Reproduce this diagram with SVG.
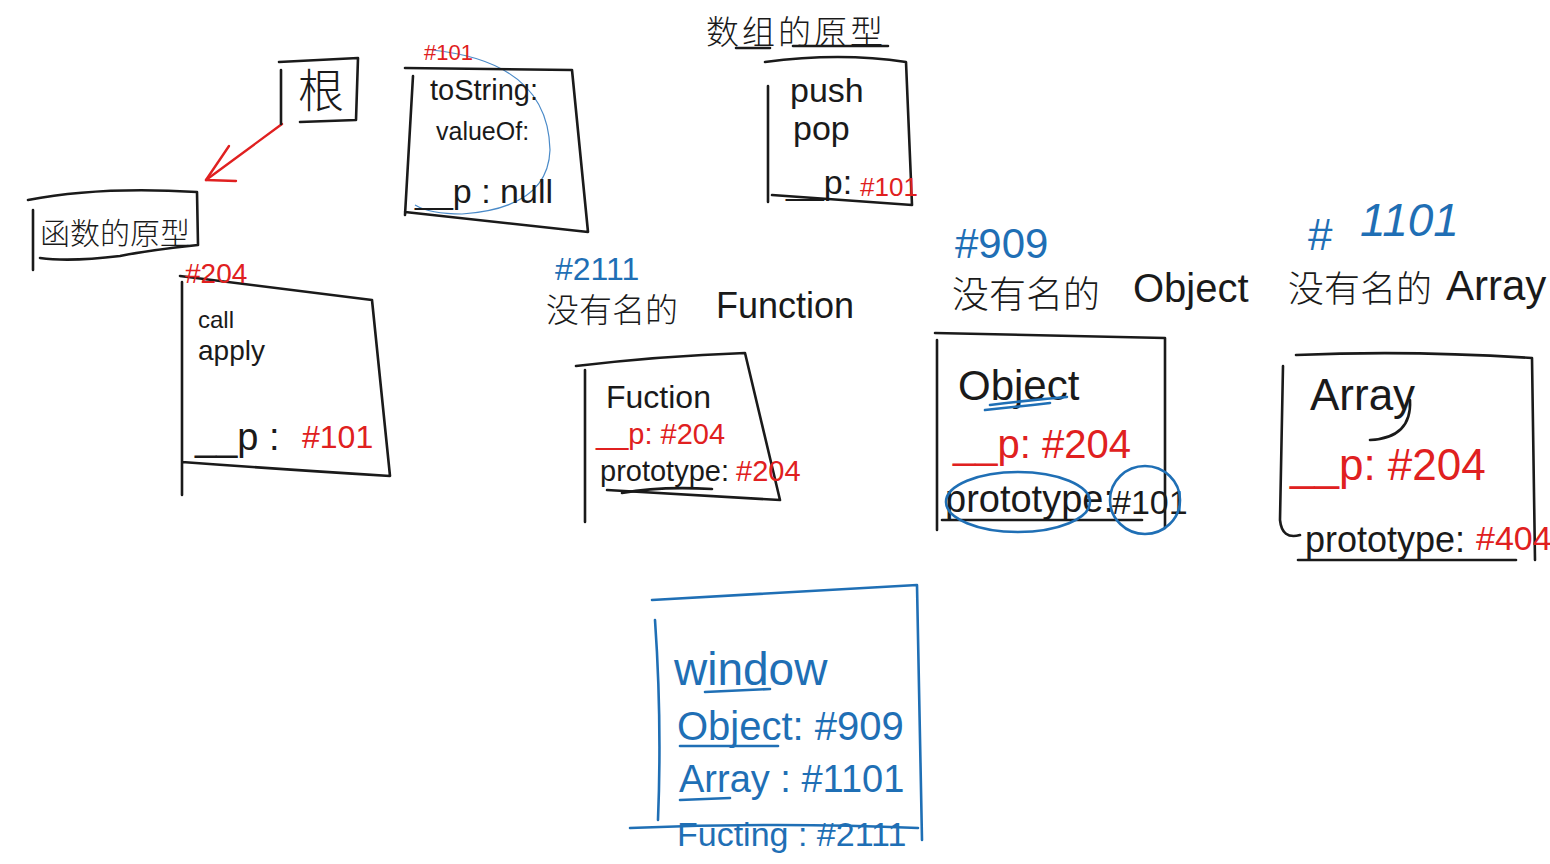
<svg xmlns="http://www.w3.org/2000/svg" width="1550" height="864" viewBox="0 0 1550 864">
<defs>
<style>
.ink{fill:none;stroke:#1a1a1a;stroke-width:2.6;stroke-linecap:round;stroke-linejoin:round}
.bink{fill:none;stroke:#1f6fb5;stroke-width:2.6;stroke-linecap:round;stroke-linejoin:round}
.thin{fill:none;stroke:#4a8ac8;stroke-width:1.2}
.t{font-family:"Liberation Sans","Noto Sans CJK SC",sans-serif;fill:#1a1a1a}
.cjk{font-family:"Noto Sans CJK SC","Liberation Sans",sans-serif;fill:#1a1a1a;font-weight:300}
.r{fill:#e02020}
.b{fill:#1f6fb5}
</style>
</defs>
<rect width="1550" height="864" fill="#ffffff"/>

<g id="connectors">
<path d="M282 124 L206 180" fill="none" stroke="#e02020" stroke-width="2.4" stroke-linecap="round"/>
<path d="M229 146 L206 180 L236 181" fill="none" stroke="#e02020" stroke-width="2.4" stroke-linecap="round" stroke-linejoin="round"/>
</g>

<g id="root">
<path class="ink" d="M279 62 L358 58 L356 120 L300 122 M281 70 L281 124"/>
<text class="cjk" x="298" y="107" font-size="46">根</text>
</g>

<g id="func-proto-label">
<path class="ink" d="M28 200 Q100 186 197 192 L198 245 Q150 250 120 256 Q70 262 40 258 M33 210 L33 270"/>
<text class="cjk" x="40" y="244" font-size="30">函数的原型</text>
</g>

<g id="obj101">
<path class="thin" d="M432 50 Q548 62 550 150 Q548 208 462 214 Q430 214 415 205"/>
<path class="ink" d="M405 68 L572 70 L588 232 L405 212 M413 76 L405 215"/>
<text class="t r" x="424" y="60" font-size="22">#101</text>
<text class="t" x="430" y="100" font-size="29">toString:</text>
<text class="t" x="436" y="140" font-size="25">valueOf:</text>
<text class="t" x="415" y="203" font-size="34">__p : null</text>
</g>

<g id="arr-proto">
<text class="cjk" x="706" y="44" font-size="33" letter-spacing="3">数组的原型</text>
<path class="ink" d="M736 48 L770 48 M793 46 L888 46"/>
<path class="ink" d="M765 62 Q840 52 906 62 L912 205 L772 195 M768 86 L768 202"/>
<text class="t" x="790" y="102" font-size="34">push</text>
<text class="t" x="793" y="140" font-size="34">pop</text>
<text class="t" x="786" y="194" font-size="34">__p:</text>
<text class="t r" x="860" y="196" font-size="26">#101</text>
</g>

<g id="proto204">
<path class="ink" d="M180 276 L372 300 L390 476 Q290 470 182 462 M182 282 L182 495"/>
<text class="t r" x="185" y="283" font-size="28">#204</text>
<text class="t" x="198" y="328" font-size="24">call</text>
<text class="t" x="198" y="360" font-size="28">apply</text>
<text class="t" x="195" y="450" font-size="38">__p :</text>
<text class="t r" x="302" y="448" font-size="32">#101</text>
</g>

<g id="function-node">
<text class="t b" x="555" y="280" font-size="32">#2111</text>
<text class="cjk" x="546" y="322" font-size="33">没有名的</text>
<text class="t" x="716" y="318" font-size="36">Function</text>
<path class="ink" d="M576 366 Q660 356 745 353 L780 500 L607 490 M585 370 L585 522"/>
<text class="t" x="606" y="408" font-size="32">Fuction</text>
<text class="t r" x="596" y="444" font-size="29">__p: #204</text>
<text class="t" x="600" y="481" font-size="29">prototype:</text>
<text class="t r" x="736" y="481" font-size="29">#204</text>
<path class="ink" d="M622 493 Q660 486 712 489" stroke-width="1.6"/>
</g>

<g id="object-node">
<text class="t b" x="955" y="258" font-size="42">#909</text>
<text class="cjk" x="952" y="308" font-size="37">没有名的</text>
<text class="t" x="1133" y="302" font-size="40">Object</text>
<path class="ink" d="M935 333 L1165 338 L1165 528 M937 340 L937 530"/>
<text class="t" x="958" y="400" font-size="42">Object</text>
<path class="bink" d="M990 405 Q1030 400 1067 397 M985 410 Q1015 407 1050 403"/>
<text class="t r" x="953" y="458" font-size="40">__p: #204</text>
<text class="t" x="945" y="512" font-size="38">prototype:</text>
<text class="t" x="1112" y="514" font-size="34">#101</text>
<path class="ink" d="M942 520 L1142 520"/>
<ellipse class="bink" cx="1018" cy="502" rx="72" ry="30" stroke-width="2"/>
<ellipse class="bink" cx="1145" cy="500" rx="35" ry="34" stroke-width="2"/>
</g>

<g id="array-node">
<text class="t b" x="1308" y="250" font-size="44">#</text>
<text class="t b" x="1360" y="236" font-size="46" font-style="italic">1101</text>
<text class="cjk" x="1288" y="302" font-size="36">没有名的</text>
<text class="t" x="1446" y="300" font-size="42">Array</text>
<path class="ink" d="M1296 355 Q1410 350 1532 358 L1535 560 M1283 366 L1280 520 Q1282 540 1300 535"/>
<text class="t" x="1310" y="410" font-size="44">Array</text>
<path class="ink" d="M1410 400 Q1412 438 1370 440"/>
<text class="t r" x="1290" y="480" font-size="44">__p: #204</text>
<text class="t" x="1305" y="552" font-size="36">prototype:</text>
<text class="t r" x="1476" y="550" font-size="34">#404</text>
<path class="ink" d="M1298 560 L1516 560"/>
</g>

<g id="window">
<path class="bink" d="M652 600 L917 585 L922 840 M655 620 Q662 720 658 820 M630 828 Q780 822 918 828"/>
<text class="t b" x="674" y="685" font-size="46">window</text>
<path class="bink" d="M705 692 L770 689" stroke-width="1.6"/>
<text class="t b" x="677" y="740" font-size="40">Object: #909</text>
<path class="bink" d="M680 746 L778 746" stroke-width="1.6"/>
<text class="t b" x="679" y="792" font-size="38">Array : #1101</text>
<path class="bink" d="M680 800 L730 798" stroke-width="1.6"/>
<text class="t b" x="677" y="846" font-size="34">Fucting : #2111</text>
</g>
</svg>
